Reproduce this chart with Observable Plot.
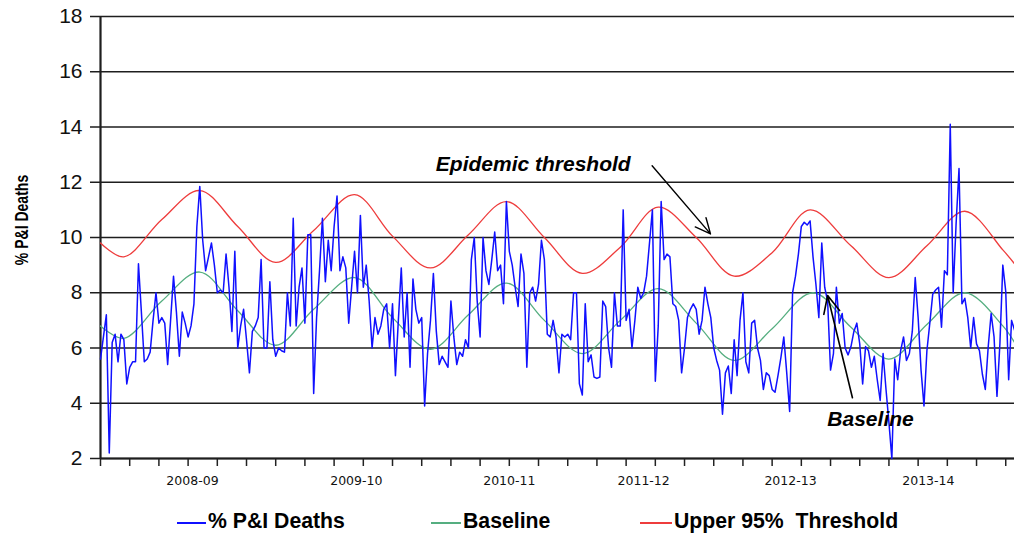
<!DOCTYPE html>
<html><head><meta charset="utf-8">
<script src="https://cdn.jsdelivr.net/npm/d3@7"></script>
<script src="https://cdn.jsdelivr.net/npm/@observablehq/plot@0.6"></script>
<style>
body{margin:0;background:#fff;}
#wrap{position:relative;width:1014px;height:534px;overflow:hidden;background:#fff;}
#legend{position:absolute;left:0;top:500px;width:1014px;height:34px;}
.sw{position:absolute;top:22px;height:2px;}
.lt{position:absolute;top:9px;font-weight:bold;font-size:22px;font-family:"Liberation Sans",Arial,sans-serif;line-height:24px;white-space:pre;color:#000;transform:scaleX(0.965);transform-origin:0 50%;}
</style></head><body>
<div id="wrap"><div id="chart"></div><div id="legend"></div></div>
<script>
// Weekly % of deaths due to pneumonia & influenza (week index 0 = first week shown)
const deathsPct = [
 5.6, 6.4, 7.2, 2.2, 6.2, 6.5, 5.5, 6.5, 6.3, 4.7,
 5.3, 5.5, 5.5, 9.05, 7.3, 5.5, 5.6, 5.85, 7.0, 8.0,
 6.9, 7.1, 6.9, 5.4, 7.0, 8.6, 7.3, 5.7, 7.3, 6.9,
 6.4, 6.8, 7.6, 10.4, 11.85, 9.9, 8.8, 9.3, 9.8, 9.0,
 8.0, 8.1, 8.0, 9.4, 8.2, 6.6, 9.5, 6.0, 6.8, 7.4,
 6.3, 5.1, 6.6, 6.8, 7.1, 9.2, 6.0, 6.0, 8.4, 6.3,
 5.7, 6.0, 5.9, 5.85, 8.0, 6.8, 10.7, 6.8, 8.2, 8.9,
 6.9, 10.1, 10.1, 4.35, 7.1, 8.8, 10.7, 8.4, 9.9, 8.8,
 10.4, 11.5, 8.8, 9.3, 8.9, 6.9, 8.2, 9.5, 8.0, 10.8,
 8.2, 9.0, 7.7, 6.0, 7.1, 6.5, 6.8, 7.4, 7.6, 6.0,
 7.6, 5.0, 7.0, 8.9, 6.4, 8.0, 5.3, 8.5, 7.4, 6.9,
 7.1, 3.9, 5.8, 7.0, 8.7, 6.6, 5.4, 5.7, 5.5, 5.3,
 7.7, 6.4, 5.4, 5.85, 5.7, 6.3, 6.0, 9.2, 10.0, 7.7,
 6.4, 10.0, 8.8, 8.3, 9.2, 10.2, 8.8, 9.0, 7.6, 11.3,
 9.5, 9.0, 8.2, 7.5, 9.4, 8.7, 5.3, 8.0, 8.2, 7.7,
 8.3, 9.9, 9.2, 6.5, 6.4, 7.0, 6.4, 5.1, 6.5, 6.4,
 6.5, 6.3, 8.0, 8.0, 4.7, 4.3, 7.6, 5.5, 5.75, 4.95,
 4.9, 4.95, 7.7, 7.5, 6.0, 5.3, 8.0, 6.8, 6.8, 11.0,
 7.0, 7.4, 6.0, 7.0, 8.2, 7.8, 8.0, 8.6, 9.8, 11.0,
 4.8, 6.8, 11.3, 9.2, 9.4, 9.3, 7.6, 7.5, 7.0, 5.1,
 6.0, 7.1, 7.4, 7.6, 7.4, 6.5, 7.0, 8.2, 7.6, 7.1,
 6.0, 5.55, 5.2, 3.6, 5.1, 5.35, 4.35, 6.3, 5.0, 7.0,
 8.0, 5.5, 5.1, 6.9, 7.0, 6.0, 5.55, 4.5, 5.1, 5.0,
 4.5, 4.4, 5.0, 5.65, 6.4, 5.1, 3.7, 8.0, 8.6, 9.4,
 10.4, 10.55, 10.45, 10.6, 9.3, 8.3, 7.1, 9.8, 8.2, 7.7,
 5.2, 5.8, 8.2, 6.9, 7.25, 6.0, 5.75, 6.05, 6.6, 6.9,
 6.15, 4.7, 6.05, 5.9, 5.3, 5.7, 4.85, 4.1, 5.8, 4.5,
 3.3, 2.0, 5.6, 4.85, 5.9, 6.4, 5.55, 5.8, 6.6, 8.55,
 7.1, 5.2, 3.9, 5.9, 6.9, 7.95, 8.1, 8.2, 6.75, 8.8,
 8.65, 14.1, 8.0, 10.5, 12.5, 7.6, 7.8, 7.1, 6.0, 7.1,
 6.15, 5.9, 5.05, 4.5, 6.05, 7.25, 6.4, 4.25, 6.15, 9.0,
 8.05, 4.85, 7.0, 6.65
];

// Seasonal baseline (read at turning points / midpoints)
const baselineWeeks  = [0, 8, 21, 34, 47, 60, 73, 87, 100, 113, 126, 139, 152, 165, 178, 191, 204, 217, 230, 244, 257, 270, 283, 296, 309, 313];
const baselineValues = [6.8, 6.35, 7.7, 8.75, 7.35, 6.1, 7.4, 8.55, 7.1, 5.95, 7.2, 8.35, 7.0, 5.8, 7.0, 8.15, 6.9, 5.55, 6.7, 8.0, 6.75, 5.6, 6.85, 8.0, 6.8, 6.2];

// Upper 95% threshold
const thresholdWeeks  = [0, 8, 21, 34, 47, 60, 73, 87, 100, 113, 126, 139, 152, 165, 178, 191, 204, 217, 230, 243, 257, 270, 283, 296, 309, 313];
const thresholdValues = [9.8, 9.3, 10.65, 11.7, 10.4, 9.1, 10.25, 11.55, 10.05, 8.9, 10.1, 11.3, 10.0, 8.7, 9.65, 11.1, 10.0, 8.6, 9.45, 11.0, 9.7, 8.55, 9.7, 10.95, 9.55, 9.05];

// Axis ticks and labels
const yTicks = [2, 4, 6, 8, 10, 12, 14, 16, 18];
const weekTicks = d3.range(0, 314, 10);
const seasonLabels = ["2008-09", "2009-10", "2010-11", "2011-12", "2012-13", "2013-14"];
const seasonLabelWeek = [31.5, 87.6, 140, 186, 236.3, 283.5];

const seriesNames = ["% P&I Deaths", "Baseline", "Upper 95%  Threshold"];
const seriesColors = ["#1010ff", "#55ae80", "#ee3c3c"];

const deathsData = deathsPct.map((v, i) => ({week: i, value: v}));
const baselineData = baselineWeeks.map((w, i) => ({week: w, value: baselineValues[i]}));
const thresholdData = thresholdWeeks.map((w, i) => ({week: w, value: thresholdValues[i]}));

const annotFont = "Liberation Sans, Arial, sans-serif";

const chart = Plot.plot({
  width: 1014,
  height: 500,
  marginLeft: 100,
  marginRight: 0,
  marginTop: 16,
  marginBottom: 42,
  x: {domain: [0, 313]},
  y: {domain: [2, 18]},
  style: {background: "#fff", fontFamily: "Liberation Sans, Arial, sans-serif", overflow: "visible"},
  marks: [
    Plot.gridY(yTicks, {stroke: "#1e1e1e", strokeOpacity: 1, strokeWidth: 1.6}),
    Plot.axisY(yTicks, {tickSize: 10, tickPadding: 8, fontSize: 21, label: null, stroke: "#1e1e1e", strokeWidth: 1.5, fill: "#111"}),
    Plot.axisX(weekTicks, {tickSize: 8, tickFormat: () => "", label: null, stroke: "#222", strokeWidth: 1.5}),
    Plot.axisX(seasonLabelWeek, {tickSize: 0, tickPadding: 18, label: null, fontSize: 12.5, fontFamily: "DejaVu Sans, sans-serif", fill: "#111",
      tickFormat: d => seasonLabels[seasonLabelWeek.indexOf(d)]}),
    Plot.ruleX([0], {stroke: "#1e1e1e", strokeWidth: 2.2}),
    Plot.ruleY([2], {stroke: "#1e1e1e", strokeWidth: 2}),
    Plot.line(thresholdData, {x: "week", y: "value", stroke: seriesColors[2], strokeWidth: 1.3, curve: "catmull-rom"}),
    Plot.line(baselineData, {x: "week", y: "value", stroke: seriesColors[1], strokeWidth: 1.3, curve: "catmull-rom"}),
    Plot.line(deathsData, {x: "week", y: "value", stroke: seriesColors[0], strokeWidth: 1.5}),
    Plot.arrow([{x1: 188.9, y1: 12.6, x2: 208.9, y2: 10.13}], {x1: "x1", y1: "y1", x2: "x2", y2: "y2", stroke: "#000", strokeWidth: 1.4, headLength: 18, headAngle: 50}),
    Plot.arrow([{x1: 257.5, y1: 4.2, x2: 249, y2: 7.9}], {x1: "x1", y1: "y1", x2: "x2", y2: "y2", stroke: "#000", strokeWidth: 1.6, headLength: 18, headAngle: 50}),
    Plot.text(["Epidemic threshold"], {x: 148.2, y: 12.64, text: d => d, fontSize: 21, fontWeight: "bold", fontStyle: "italic", fontFamily: annotFont, fill: "#000"}),
    Plot.text(["Baseline"], {x: 263.7, y: 3.43, text: d => d, fontSize: 21, fontWeight: "bold", fontStyle: "italic", fontFamily: annotFont, fill: "#000"})
  ]
});

const svg = d3.select(chart);
svg.append("text")
  .attr("transform", "translate(21,220) rotate(-90) scale(0.78,1)")
  .attr("text-anchor", "middle")
  .attr("dominant-baseline", "central")
  .attr("font-family", "'Liberation Sans',Arial,sans-serif")
  .attr("font-weight", "bold")
  .attr("font-size", 18)
  .attr("fill", "#000")
  .text("% P&I Deaths");

document.getElementById("chart").appendChild(chart);

const legend = document.getElementById("legend");
const swatchX = [177, 431, 640];
const swatchW = [29, 30, 32];
seriesNames.forEach((name, i) => {
  const sw = document.createElement("div");
  sw.className = "sw";
  sw.style.left = swatchX[i] + "px";
  sw.style.width = swatchW[i] + "px";
  sw.style.background = seriesColors[i];
  legend.appendChild(sw);
  const t = document.createElement("div");
  t.className = "lt";
  t.style.left = (swatchX[i] + swatchW[i] + 2) + "px";
  t.textContent = name;
  legend.appendChild(t);
});
</script>
</body></html>
